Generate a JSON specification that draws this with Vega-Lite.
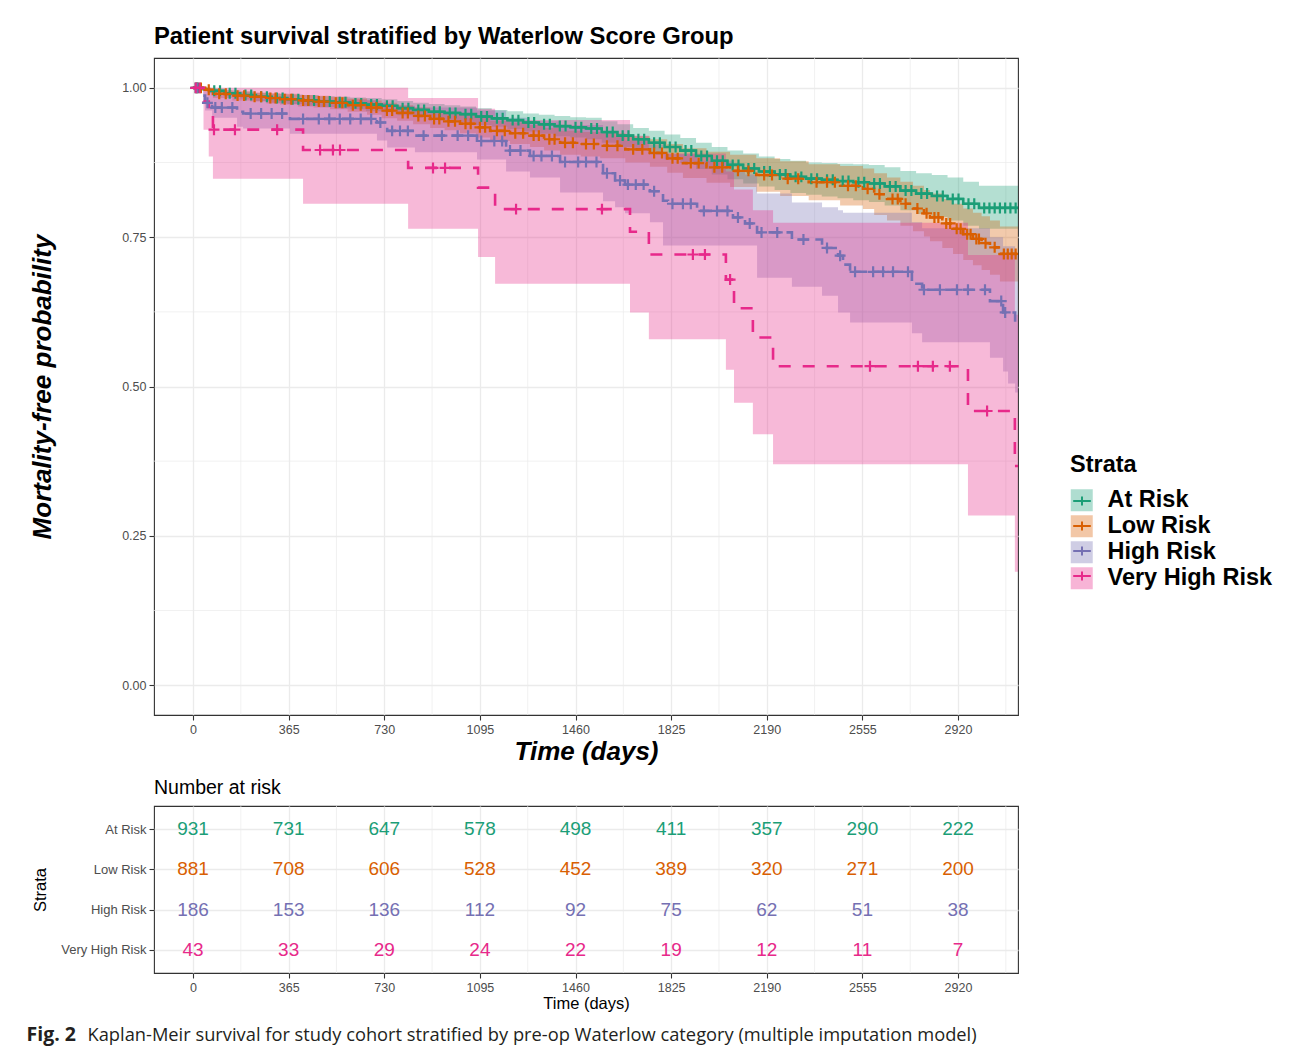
{
"$schema": "https://vega.github.io/schema/vega-lite/v6.json",
"background": "white",
"padding": {"left": 26, "top": 24, "right": 10, "bottom": 6},
"spacing": 11,
"resolve": {"legend": {"fill": "independent", "stroke": "independent", "color": "independent", "strokeDash": "independent"}},
"datasets": {
"curves": [
{"strata":"At Risk","t":0,"s":1,"lo":1,"hi":1},
{"strata":"At Risk","t":30,"s":0.998,"lo":0.995,"hi":1},
{"strata":"At Risk","t":61,"s":0.995,"lo":0.991,"hi":0.999},
{"strata":"At Risk","t":120,"s":0.991,"lo":0.986,"hi":0.996},
{"strata":"At Risk","t":180,"s":0.988,"lo":0.982,"hi":0.994},
{"strata":"At Risk","t":240,"s":0.985,"lo":0.978,"hi":0.992},
{"strata":"At Risk","t":300,"s":0.983,"lo":0.975,"hi":0.990},
{"strata":"At Risk","t":360,"s":0.981,"lo":0.973,"hi":0.989},
{"strata":"At Risk","t":420,"s":0.979,"lo":0.970,"hi":0.988},
{"strata":"At Risk","t":480,"s":0.977,"lo":0.968,"hi":0.986},
{"strata":"At Risk","t":540,"s":0.976,"lo":0.966,"hi":0.985},
{"strata":"At Risk","t":600,"s":0.974,"lo":0.964,"hi":0.984},
{"strata":"At Risk","t":660,"s":0.972,"lo":0.961,"hi":0.983},
{"strata":"At Risk","t":720,"s":0.970,"lo":0.959,"hi":0.981},
{"strata":"At Risk","t":780,"s":0.966,"lo":0.954,"hi":0.978},
{"strata":"At Risk","t":840,"s":0.963,"lo":0.951,"hi":0.975},
{"strata":"At Risk","t":900,"s":0.960,"lo":0.947,"hi":0.973},
{"strata":"At Risk","t":960,"s":0.958,"lo":0.945,"hi":0.971},
{"strata":"At Risk","t":1020,"s":0.956,"lo":0.943,"hi":0.969},
{"strata":"At Risk","t":1080,"s":0.952,"lo":0.938,"hi":0.966},
{"strata":"At Risk","t":1140,"s":0.949,"lo":0.935,"hi":0.963},
{"strata":"At Risk","t":1200,"s":0.946,"lo":0.931,"hi":0.961},
{"strata":"At Risk","t":1260,"s":0.942,"lo":0.927,"hi":0.957},
{"strata":"At Risk","t":1320,"s":0.939,"lo":0.923,"hi":0.955},
{"strata":"At Risk","t":1380,"s":0.936,"lo":0.919,"hi":0.953},
{"strata":"At Risk","t":1440,"s":0.934,"lo":0.917,"hi":0.951},
{"strata":"At Risk","t":1500,"s":0.932,"lo":0.914,"hi":0.950},
{"strata":"At Risk","t":1560,"s":0.926,"lo":0.908,"hi":0.944},
{"strata":"At Risk","t":1620,"s":0.920,"lo":0.901,"hi":0.939},
{"strata":"At Risk","t":1680,"s":0.914,"lo":0.895,"hi":0.933},
{"strata":"At Risk","t":1740,"s":0.908,"lo":0.888,"hi":0.928},
{"strata":"At Risk","t":1800,"s":0.901,"lo":0.880,"hi":0.922},
{"strata":"At Risk","t":1860,"s":0.895,"lo":0.874,"hi":0.916},
{"strata":"At Risk","t":1920,"s":0.886,"lo":0.864,"hi":0.908},
{"strata":"At Risk","t":1980,"s":0.878,"lo":0.855,"hi":0.901},
{"strata":"At Risk","t":2040,"s":0.871,"lo":0.847,"hi":0.895},
{"strata":"At Risk","t":2100,"s":0.865,"lo":0.840,"hi":0.890},
{"strata":"At Risk","t":2160,"s":0.860,"lo":0.835,"hi":0.885},
{"strata":"At Risk","t":2220,"s":0.855,"lo":0.829,"hi":0.881},
{"strata":"At Risk","t":2280,"s":0.851,"lo":0.824,"hi":0.878},
{"strata":"At Risk","t":2340,"s":0.848,"lo":0.821,"hi":0.875},
{"strata":"At Risk","t":2400,"s":0.846,"lo":0.818,"hi":0.874},
{"strata":"At Risk","t":2460,"s":0.844,"lo":0.815,"hi":0.873},
{"strata":"At Risk","t":2520,"s":0.842,"lo":0.812,"hi":0.872},
{"strata":"At Risk","t":2580,"s":0.840,"lo":0.809,"hi":0.871},
{"strata":"At Risk","t":2640,"s":0.835,"lo":0.803,"hi":0.867},
{"strata":"At Risk","t":2700,"s":0.828,"lo":0.795,"hi":0.861},
{"strata":"At Risk","t":2760,"s":0.823,"lo":0.789,"hi":0.857},
{"strata":"At Risk","t":2820,"s":0.819,"lo":0.784,"hi":0.854},
{"strata":"At Risk","t":2880,"s":0.814,"lo":0.778,"hi":0.850},
{"strata":"At Risk","t":2940,"s":0.806,"lo":0.769,"hi":0.843},
{"strata":"At Risk","t":3000,"s":0.799,"lo":0.764,"hi":0.836},
{"strata":"At Risk","t":3149,"s":0.799,"lo":0.764,"hi":0.836},
{"strata":"Low Risk","t":0,"s":1,"lo":1,"hi":1},
{"strata":"Low Risk","t":46,"s":0.997,"lo":0.993,"hi":1},
{"strata":"Low Risk","t":76,"s":0.990,"lo":0.983,"hi":0.996},
{"strata":"Low Risk","t":150,"s":0.987,"lo":0.979,"hi":0.994},
{"strata":"Low Risk","t":218,"s":0.985,"lo":0.977,"hi":0.992},
{"strata":"Low Risk","t":280,"s":0.983,"lo":0.974,"hi":0.991},
{"strata":"Low Risk","t":332,"s":0.981,"lo":0.972,"hi":0.990},
{"strata":"Low Risk","t":400,"s":0.979,"lo":0.969,"hi":0.988},
{"strata":"Low Risk","t":460,"s":0.977,"lo":0.967,"hi":0.987},
{"strata":"Low Risk","t":523,"s":0.975,"lo":0.964,"hi":0.985},
{"strata":"Low Risk","t":590,"s":0.971,"lo":0.960,"hi":0.982},
{"strata":"Low Risk","t":664,"s":0.967,"lo":0.955,"hi":0.979},
{"strata":"Low Risk","t":720,"s":0.962,"lo":0.949,"hi":0.975},
{"strata":"Low Risk","t":779,"s":0.958,"lo":0.945,"hi":0.971},
{"strata":"Low Risk","t":840,"s":0.953,"lo":0.939,"hi":0.967},
{"strata":"Low Risk","t":905,"s":0.948,"lo":0.933,"hi":0.962},
{"strata":"Low Risk","t":960,"s":0.944,"lo":0.929,"hi":0.959},
{"strata":"Low Risk","t":1019,"s":0.940,"lo":0.924,"hi":0.955},
{"strata":"Low Risk","t":1080,"s":0.934,"lo":0.917,"hi":0.950},
{"strata":"Low Risk","t":1134,"s":0.928,"lo":0.911,"hi":0.945},
{"strata":"Low Risk","t":1210,"s":0.924,"lo":0.906,"hi":0.942},
{"strata":"Low Risk","t":1286,"s":0.920,"lo":0.901,"hi":0.938},
{"strata":"Low Risk","t":1340,"s":0.914,"lo":0.895,"hi":0.933},
{"strata":"Low Risk","t":1401,"s":0.908,"lo":0.888,"hi":0.928},
{"strata":"Low Risk","t":1480,"s":0.906,"lo":0.885,"hi":0.926},
{"strata":"Low Risk","t":1554,"s":0.903,"lo":0.882,"hi":0.924},
{"strata":"Low Risk","t":1650,"s":0.897,"lo":0.875,"hi":0.919},
{"strata":"Low Risk","t":1744,"s":0.891,"lo":0.868,"hi":0.914},
{"strata":"Low Risk","t":1810,"s":0.882,"lo":0.858,"hi":0.906},
{"strata":"Low Risk","t":1870,"s":0.874,"lo":0.849,"hi":0.899},
{"strata":"Low Risk","t":1960,"s":0.867,"lo":0.841,"hi":0.893},
{"strata":"Low Risk","t":2050,"s":0.861,"lo":0.834,"hi":0.888},
{"strata":"Low Risk","t":2150,"s":0.854,"lo":0.826,"hi":0.882},
{"strata":"Low Risk","t":2241,"s":0.848,"lo":0.819,"hi":0.877},
{"strata":"Low Risk","t":2350,"s":0.842,"lo":0.812,"hi":0.872},
{"strata":"Low Risk","t":2470,"s":0.836,"lo":0.803,"hi":0.869},
{"strata":"Low Risk","t":2557,"s":0.831,"lo":0.797,"hi":0.865},
{"strata":"Low Risk","t":2600,"s":0.822,"lo":0.787,"hi":0.857},
{"strata":"Low Risk","t":2649,"s":0.814,"lo":0.778,"hi":0.850},
{"strata":"Low Risk","t":2700,"s":0.806,"lo":0.769,"hi":0.843},
{"strata":"Low Risk","t":2748,"s":0.798,"lo":0.760,"hi":0.836},
{"strata":"Low Risk","t":2790,"s":0.790,"lo":0.751,"hi":0.829},
{"strata":"Low Risk","t":2813,"s":0.783,"lo":0.743,"hi":0.823},
{"strata":"Low Risk","t":2860,"s":0.773,"lo":0.732,"hi":0.814},
{"strata":"Low Risk","t":2901,"s":0.764,"lo":0.722,"hi":0.806},
{"strata":"Low Risk","t":2940,"s":0.755,"lo":0.712,"hi":0.798},
{"strata":"Low Risk","t":2977,"s":0.747,"lo":0.703,"hi":0.791},
{"strata":"Low Risk","t":3010,"s":0.740,"lo":0.695,"hi":0.785},
{"strata":"Low Risk","t":3042,"s":0.733,"lo":0.687,"hi":0.778},
{"strata":"Low Risk","t":3080,"s":0.722,"lo":0.676,"hi":0.768},
{"strata":"Low Risk","t":3149,"s":0.722,"lo":0.676,"hi":0.768},
{"strata":"High Risk","t":0,"s":1,"lo":1,"hi":1},
{"strata":"High Risk","t":38,"s":0.987,"lo":0.975,"hi":0.998},
{"strata":"High Risk","t":46,"s":0.975,"lo":0.962,"hi":0.993},
{"strata":"High Risk","t":73,"s":0.967,"lo":0.950,"hi":0.990},
{"strata":"High Risk","t":168,"s":0.960,"lo":0.935,"hi":0.985},
{"strata":"High Risk","t":191,"s":0.957,"lo":0.932,"hi":0.984},
{"strata":"High Risk","t":370,"s":0.948,"lo":0.923,"hi":0.980},
{"strata":"High Risk","t":702,"s":0.942,"lo":0.912,"hi":0.975},
{"strata":"High Risk","t":741,"s":0.928,"lo":0.900,"hi":0.970},
{"strata":"High Risk","t":847,"s":0.920,"lo":0.892,"hi":0.967},
{"strata":"High Risk","t":1084,"s":0.911,"lo":0.880,"hi":0.962},
{"strata":"High Risk","t":1195,"s":0.895,"lo":0.860,"hi":0.950},
{"strata":"High Risk","t":1286,"s":0.886,"lo":0.850,"hi":0.944},
{"strata":"High Risk","t":1401,"s":0.876,"lo":0.825,"hi":0.938},
{"strata":"High Risk","t":1565,"s":0.857,"lo":0.810,"hi":0.925},
{"strata":"High Risk","t":1611,"s":0.845,"lo":0.800,"hi":0.918},
{"strata":"High Risk","t":1649,"s":0.838,"lo":0.790,"hi":0.912},
{"strata":"High Risk","t":1744,"s":0.827,"lo":0.775,"hi":0.905},
{"strata":"High Risk","t":1794,"s":0.811,"lo":0.736,"hi":0.893},
{"strata":"High Risk","t":1813,"s":0.806,"lo":0.736,"hi":0.889},
{"strata":"High Risk","t":1924,"s":0.794,"lo":0.736,"hi":0.878},
{"strata":"High Risk","t":2061,"s":0.783,"lo":0.736,"hi":0.862},
{"strata":"High Risk","t":2107,"s":0.773,"lo":0.736,"hi":0.855},
{"strata":"High Risk","t":2153,"s":0.758,"lo":0.682,"hi":0.823},
{"strata":"High Risk","t":2286,"s":0.746,"lo":0.667,"hi":0.808},
{"strata":"High Risk","t":2401,"s":0.732,"lo":0.652,"hi":0.800},
{"strata":"High Risk","t":2462,"s":0.719,"lo":0.624,"hi":0.795},
{"strata":"High Risk","t":2481,"s":0.704,"lo":0.624,"hi":0.791},
{"strata":"High Risk","t":2508,"s":0.692,"lo":0.607,"hi":0.791},
{"strata":"High Risk","t":2744,"s":0.672,"lo":0.589,"hi":0.775},
{"strata":"High Risk","t":2783,"s":0.662,"lo":0.574,"hi":0.765},
{"strata":"High Risk","t":3042,"s":0.643,"lo":0.548,"hi":0.750},
{"strata":"High Risk","t":3092,"s":0.624,"lo":0.525,"hi":0.735},
{"strata":"High Risk","t":3111,"s":0.624,"lo":0.505,"hi":0.735},
{"strata":"High Risk","t":3138,"s":0.606,"lo":0.490,"hi":0.720},
{"strata":"High Risk","t":3149,"s":0.606,"lo":0.490,"hi":0.720},
{"strata":"Very High Risk","t":0,"s":1,"lo":1,"hi":1},
{"strata":"Very High Risk","t":40,"s":0.977,"lo":0.930,"hi":1},
{"strata":"Very High Risk","t":60,"s":0.953,"lo":0.885,"hi":1},
{"strata":"Very High Risk","t":76,"s":0.930,"lo":0.848,"hi":1},
{"strata":"Very High Risk","t":420,"s":0.896,"lo":0.806,"hi":1},
{"strata":"Very High Risk","t":821,"s":0.866,"lo":0.764,"hi":0.983},
{"strata":"Very High Risk","t":1088,"s":0.833,"lo":0.717,"hi":0.965},
{"strata":"Very High Risk","t":1153,"s":0.797,"lo":0.672,"hi":0.946},
{"strata":"Very High Risk","t":1668,"s":0.759,"lo":0.624,"hi":0.920},
{"strata":"Very High Risk","t":1740,"s":0.721,"lo":0.579,"hi":0.890},
{"strata":"Very High Risk","t":2034,"s":0.679,"lo":0.528,"hi":0.860},
{"strata":"Very High Risk","t":2065,"s":0.631,"lo":0.473,"hi":0.830},
{"strata":"Very High Risk","t":2137,"s":0.582,"lo":0.420,"hi":0.795},
{"strata":"Very High Risk","t":2214,"s":0.534,"lo":0.370,"hi":0.774},
{"strata":"Very High Risk","t":2958,"s":0.459,"lo":0.284,"hi":0.720},
{"strata":"Very High Risk","t":3137,"s":0.367,"lo":0.190,"hi":0.620},
{"strata":"Very High Risk","t":3149,"s":0.367,"lo":0.190,"hi":0.620}
],
"censor": [
{"strata":"At Risk","t":10,"s":1},{"strata":"At Risk","t":20,"s":1},
{"strata":"At Risk","t":81,"s":0.995},{"strata":"At Risk","t":103,"s":0.995},
{"strata":"At Risk","t":140,"s":0.991},{"strata":"At Risk","t":162,"s":0.991},
{"strata":"At Risk","t":200,"s":0.988},{"strata":"At Risk","t":222,"s":0.988},
{"strata":"At Risk","t":260,"s":0.985},{"strata":"At Risk","t":282,"s":0.985},
{"strata":"At Risk","t":320,"s":0.983},{"strata":"At Risk","t":342,"s":0.983},
{"strata":"At Risk","t":380,"s":0.981},{"strata":"At Risk","t":402,"s":0.981},
{"strata":"At Risk","t":440,"s":0.979},{"strata":"At Risk","t":462,"s":0.979},
{"strata":"At Risk","t":500,"s":0.977},{"strata":"At Risk","t":522,"s":0.977},
{"strata":"At Risk","t":560,"s":0.976},{"strata":"At Risk","t":582,"s":0.976},
{"strata":"At Risk","t":620,"s":0.974},{"strata":"At Risk","t":642,"s":0.974},
{"strata":"At Risk","t":680,"s":0.972},{"strata":"At Risk","t":702,"s":0.972},
{"strata":"At Risk","t":740,"s":0.970},{"strata":"At Risk","t":762,"s":0.970},
{"strata":"At Risk","t":800,"s":0.966},{"strata":"At Risk","t":822,"s":0.966},
{"strata":"At Risk","t":860,"s":0.963},{"strata":"At Risk","t":882,"s":0.963},
{"strata":"At Risk","t":920,"s":0.960},{"strata":"At Risk","t":942,"s":0.960},
{"strata":"At Risk","t":980,"s":0.958},{"strata":"At Risk","t":1002,"s":0.958},
{"strata":"At Risk","t":1040,"s":0.956},{"strata":"At Risk","t":1062,"s":0.956},
{"strata":"At Risk","t":1100,"s":0.952},{"strata":"At Risk","t":1122,"s":0.952},
{"strata":"At Risk","t":1160,"s":0.949},{"strata":"At Risk","t":1182,"s":0.949},
{"strata":"At Risk","t":1220,"s":0.946},{"strata":"At Risk","t":1242,"s":0.946},
{"strata":"At Risk","t":1280,"s":0.942},{"strata":"At Risk","t":1302,"s":0.942},
{"strata":"At Risk","t":1340,"s":0.939},{"strata":"At Risk","t":1362,"s":0.939},
{"strata":"At Risk","t":1400,"s":0.936},{"strata":"At Risk","t":1422,"s":0.936},
{"strata":"At Risk","t":1460,"s":0.934},{"strata":"At Risk","t":1482,"s":0.934},
{"strata":"At Risk","t":1520,"s":0.932},{"strata":"At Risk","t":1542,"s":0.932},
{"strata":"At Risk","t":1580,"s":0.926},{"strata":"At Risk","t":1602,"s":0.926},
{"strata":"At Risk","t":1640,"s":0.920},{"strata":"At Risk","t":1662,"s":0.920},
{"strata":"At Risk","t":1700,"s":0.914},{"strata":"At Risk","t":1722,"s":0.914},
{"strata":"At Risk","t":1760,"s":0.908},{"strata":"At Risk","t":1782,"s":0.908},
{"strata":"At Risk","t":1820,"s":0.901},{"strata":"At Risk","t":1842,"s":0.901},
{"strata":"At Risk","t":1880,"s":0.895},{"strata":"At Risk","t":1902,"s":0.895},
{"strata":"At Risk","t":1940,"s":0.886},{"strata":"At Risk","t":1962,"s":0.886},
{"strata":"At Risk","t":2000,"s":0.878},{"strata":"At Risk","t":2022,"s":0.878},
{"strata":"At Risk","t":2060,"s":0.871},{"strata":"At Risk","t":2082,"s":0.871},
{"strata":"At Risk","t":2120,"s":0.865},{"strata":"At Risk","t":2142,"s":0.865},
{"strata":"At Risk","t":2180,"s":0.860},{"strata":"At Risk","t":2202,"s":0.860},
{"strata":"At Risk","t":2240,"s":0.855},{"strata":"At Risk","t":2262,"s":0.855},
{"strata":"At Risk","t":2300,"s":0.851},{"strata":"At Risk","t":2322,"s":0.851},
{"strata":"At Risk","t":2360,"s":0.848},{"strata":"At Risk","t":2382,"s":0.848},
{"strata":"At Risk","t":2420,"s":0.846},{"strata":"At Risk","t":2442,"s":0.846},
{"strata":"At Risk","t":2480,"s":0.844},{"strata":"At Risk","t":2502,"s":0.844},
{"strata":"At Risk","t":2540,"s":0.842},{"strata":"At Risk","t":2562,"s":0.842},
{"strata":"At Risk","t":2600,"s":0.840},{"strata":"At Risk","t":2622,"s":0.840},
{"strata":"At Risk","t":2660,"s":0.835},{"strata":"At Risk","t":2682,"s":0.835},
{"strata":"At Risk","t":2720,"s":0.828},{"strata":"At Risk","t":2742,"s":0.828},
{"strata":"At Risk","t":2780,"s":0.823},{"strata":"At Risk","t":2802,"s":0.823},
{"strata":"At Risk","t":2840,"s":0.819},{"strata":"At Risk","t":2862,"s":0.819},
{"strata":"At Risk","t":2900,"s":0.814},{"strata":"At Risk","t":2922,"s":0.814},
{"strata":"At Risk","t":2960,"s":0.806},{"strata":"At Risk","t":2982,"s":0.806},
{"strata":"At Risk","t":3020,"s":0.799},{"strata":"At Risk","t":3040,"s":0.799},
{"strata":"At Risk","t":3060,"s":0.799},{"strata":"At Risk","t":3080,"s":0.799},
{"strata":"At Risk","t":3100,"s":0.799},{"strata":"At Risk","t":3120,"s":0.799},
{"strata":"At Risk","t":3140,"s":0.799},
{"strata":"Low Risk","t":15,"s":1},{"strata":"Low Risk","t":30,"s":1},
{"strata":"Low Risk","t":60,"s":0.997},
{"strata":"Low Risk","t":100,"s":0.990},{"strata":"Low Risk","t":125,"s":0.990},
{"strata":"Low Risk","t":170,"s":0.987},{"strata":"Low Risk","t":195,"s":0.987},
{"strata":"Low Risk","t":235,"s":0.985},{"strata":"Low Risk","t":260,"s":0.985},
{"strata":"Low Risk","t":295,"s":0.983},{"strata":"Low Risk","t":315,"s":0.983},
{"strata":"Low Risk","t":350,"s":0.981},{"strata":"Low Risk","t":375,"s":0.981},
{"strata":"Low Risk","t":420,"s":0.979},{"strata":"Low Risk","t":440,"s":0.979},
{"strata":"Low Risk","t":480,"s":0.977},{"strata":"Low Risk","t":500,"s":0.977},
{"strata":"Low Risk","t":545,"s":0.975},{"strata":"Low Risk","t":570,"s":0.975},
{"strata":"Low Risk","t":610,"s":0.971},{"strata":"Low Risk","t":640,"s":0.971},
{"strata":"Low Risk","t":680,"s":0.967},{"strata":"Low Risk","t":700,"s":0.967},
{"strata":"Low Risk","t":740,"s":0.962},{"strata":"Low Risk","t":760,"s":0.962},
{"strata":"Low Risk","t":800,"s":0.958},{"strata":"Low Risk","t":820,"s":0.958},
{"strata":"Low Risk","t":860,"s":0.953},{"strata":"Low Risk","t":885,"s":0.953},
{"strata":"Low Risk","t":920,"s":0.948},{"strata":"Low Risk","t":940,"s":0.948},
{"strata":"Low Risk","t":975,"s":0.944},{"strata":"Low Risk","t":1000,"s":0.944},
{"strata":"Low Risk","t":1040,"s":0.940},{"strata":"Low Risk","t":1060,"s":0.940},
{"strata":"Low Risk","t":1095,"s":0.934},{"strata":"Low Risk","t":1115,"s":0.934},
{"strata":"Low Risk","t":1160,"s":0.928},{"strata":"Low Risk","t":1190,"s":0.928},
{"strata":"Low Risk","t":1230,"s":0.924},{"strata":"Low Risk","t":1260,"s":0.924},
{"strata":"Low Risk","t":1300,"s":0.920},{"strata":"Low Risk","t":1320,"s":0.920},
{"strata":"Low Risk","t":1360,"s":0.914},{"strata":"Low Risk","t":1380,"s":0.914},
{"strata":"Low Risk","t":1420,"s":0.908},{"strata":"Low Risk","t":1450,"s":0.908},
{"strata":"Low Risk","t":1500,"s":0.906},{"strata":"Low Risk","t":1530,"s":0.906},
{"strata":"Low Risk","t":1580,"s":0.903},{"strata":"Low Risk","t":1620,"s":0.903},
{"strata":"Low Risk","t":1680,"s":0.897},{"strata":"Low Risk","t":1715,"s":0.897},
{"strata":"Low Risk","t":1760,"s":0.891},{"strata":"Low Risk","t":1790,"s":0.891},
{"strata":"Low Risk","t":1830,"s":0.882},{"strata":"Low Risk","t":1850,"s":0.882},
{"strata":"Low Risk","t":1900,"s":0.874},{"strata":"Low Risk","t":1930,"s":0.874},
{"strata":"Low Risk","t":1990,"s":0.867},{"strata":"Low Risk","t":2020,"s":0.867},
{"strata":"Low Risk","t":2080,"s":0.861},{"strata":"Low Risk","t":2120,"s":0.861},
{"strata":"Low Risk","t":2180,"s":0.854},{"strata":"Low Risk","t":2210,"s":0.854},
{"strata":"Low Risk","t":2270,"s":0.848},{"strata":"Low Risk","t":2310,"s":0.848},
{"strata":"Low Risk","t":2380,"s":0.842},{"strata":"Low Risk","t":2420,"s":0.842},
{"strata":"Low Risk","t":2450,"s":0.842},
{"strata":"Low Risk","t":2500,"s":0.836},{"strata":"Low Risk","t":2530,"s":0.836},
{"strata":"Low Risk","t":2575,"s":0.831},{"strata":"Low Risk","t":2620,"s":0.822},
{"strata":"Low Risk","t":2670,"s":0.814},{"strata":"Low Risk","t":2690,"s":0.814},
{"strata":"Low Risk","t":2720,"s":0.806},{"strata":"Low Risk","t":2765,"s":0.798},
{"strata":"Low Risk","t":2800,"s":0.790},{"strata":"Low Risk","t":2830,"s":0.783},
{"strata":"Low Risk","t":2845,"s":0.783},{"strata":"Low Risk","t":2875,"s":0.773},
{"strata":"Low Risk","t":2890,"s":0.773},{"strata":"Low Risk","t":2915,"s":0.764},
{"strata":"Low Risk","t":2930,"s":0.764},{"strata":"Low Risk","t":2955,"s":0.755},
{"strata":"Low Risk","t":2968,"s":0.755},{"strata":"Low Risk","t":2990,"s":0.747},
{"strata":"Low Risk","t":3000,"s":0.747},{"strata":"Low Risk","t":3025,"s":0.740},
{"strata":"Low Risk","t":3060,"s":0.733},{"strata":"Low Risk","t":3095,"s":0.722},
{"strata":"Low Risk","t":3110,"s":0.722},{"strata":"Low Risk","t":3125,"s":0.722},
{"strata":"Low Risk","t":3140,"s":0.722},
{"strata":"High Risk","t":15,"s":1},{"strata":"High Risk","t":55,"s":0.975},
{"strata":"High Risk","t":85,"s":0.967},{"strata":"High Risk","t":110,"s":0.967},{"strata":"High Risk","t":150,"s":0.967},
{"strata":"High Risk","t":220,"s":0.957},{"strata":"High Risk","t":260,"s":0.957},{"strata":"High Risk","t":300,"s":0.957},{"strata":"High Risk","t":340,"s":0.957},
{"strata":"High Risk","t":420,"s":0.948},{"strata":"High Risk","t":480,"s":0.948},{"strata":"High Risk","t":520,"s":0.948},{"strata":"High Risk","t":560,"s":0.948},{"strata":"High Risk","t":600,"s":0.948},{"strata":"High Risk","t":640,"s":0.948},{"strata":"High Risk","t":680,"s":0.948},
{"strata":"High Risk","t":715,"s":0.942},
{"strata":"High Risk","t":760,"s":0.928},{"strata":"High Risk","t":790,"s":0.928},{"strata":"High Risk","t":820,"s":0.928},
{"strata":"High Risk","t":880,"s":0.920},{"strata":"High Risk","t":950,"s":0.920},{"strata":"High Risk","t":1010,"s":0.920},{"strata":"High Risk","t":1050,"s":0.920},
{"strata":"High Risk","t":1100,"s":0.911},{"strata":"High Risk","t":1150,"s":0.911},{"strata":"High Risk","t":1180,"s":0.911},
{"strata":"High Risk","t":1210,"s":0.895},{"strata":"High Risk","t":1250,"s":0.895},
{"strata":"High Risk","t":1300,"s":0.886},{"strata":"High Risk","t":1330,"s":0.886},{"strata":"High Risk","t":1370,"s":0.886},
{"strata":"High Risk","t":1420,"s":0.876},{"strata":"High Risk","t":1470,"s":0.876},{"strata":"High Risk","t":1500,"s":0.876},{"strata":"High Risk","t":1540,"s":0.876},
{"strata":"High Risk","t":1580,"s":0.857},{"strata":"High Risk","t":1630,"s":0.845},
{"strata":"High Risk","t":1660,"s":0.838},{"strata":"High Risk","t":1690,"s":0.838},{"strata":"High Risk","t":1720,"s":0.838},
{"strata":"High Risk","t":1760,"s":0.827},
{"strata":"High Risk","t":1830,"s":0.806},{"strata":"High Risk","t":1870,"s":0.806},{"strata":"High Risk","t":1900,"s":0.806},
{"strata":"High Risk","t":1950,"s":0.794},{"strata":"High Risk","t":2000,"s":0.794},{"strata":"High Risk","t":2040,"s":0.794},
{"strata":"High Risk","t":2080,"s":0.783},{"strata":"High Risk","t":2125,"s":0.773},
{"strata":"High Risk","t":2170,"s":0.758},{"strata":"High Risk","t":2230,"s":0.758},
{"strata":"High Risk","t":2330,"s":0.746},{"strata":"High Risk","t":2420,"s":0.732},{"strata":"High Risk","t":2470,"s":0.719},
{"strata":"High Risk","t":2527,"s":0.692},{"strata":"High Risk","t":2596,"s":0.692},{"strata":"High Risk","t":2634,"s":0.692},{"strata":"High Risk","t":2672,"s":0.692},{"strata":"High Risk","t":2729,"s":0.692},
{"strata":"High Risk","t":2790,"s":0.662},{"strata":"High Risk","t":2851,"s":0.662},{"strata":"High Risk","t":2916,"s":0.662},{"strata":"High Risk","t":2958,"s":0.662},{"strata":"High Risk","t":3023,"s":0.662},
{"strata":"High Risk","t":3085,"s":0.643},{"strata":"High Risk","t":3100,"s":0.624},
{"strata":"Very High Risk","t":10,"s":1},{"strata":"Very High Risk","t":25,"s":1},
{"strata":"Very High Risk","t":80,"s":0.930},{"strata":"Very High Risk","t":160,"s":0.930},{"strata":"Very High Risk","t":321,"s":0.930},
{"strata":"Very High Risk","t":485,"s":0.896},{"strata":"Very High Risk","t":534,"s":0.896},{"strata":"Very High Risk","t":561,"s":0.896},
{"strata":"Very High Risk","t":916,"s":0.866},{"strata":"Very High Risk","t":962,"s":0.866},
{"strata":"Very High Risk","t":1233,"s":0.797},{"strata":"Very High Risk","t":1561,"s":0.797},
{"strata":"Very High Risk","t":1908,"s":0.721},{"strata":"Very High Risk","t":1954,"s":0.721},
{"strata":"Very High Risk","t":2050,"s":0.679},
{"strata":"Very High Risk","t":2584,"s":0.534},{"strata":"Very High Risk","t":2767,"s":0.534},{"strata":"Very High Risk","t":2824,"s":0.534},{"strata":"Very High Risk","t":2889,"s":0.534},
{"strata":"Very High Risk","t":3031,"s":0.459}
],
"risk": [
{"strata":"At Risk","t":0,"n":931},{"strata":"At Risk","t":365,"n":731},{"strata":"At Risk","t":730,"n":647},{"strata":"At Risk","t":1095,"n":578},{"strata":"At Risk","t":1460,"n":498},{"strata":"At Risk","t":1825,"n":411},{"strata":"At Risk","t":2190,"n":357},{"strata":"At Risk","t":2555,"n":290},{"strata":"At Risk","t":2920,"n":222},
{"strata":"Low Risk","t":0,"n":881},{"strata":"Low Risk","t":365,"n":708},{"strata":"Low Risk","t":730,"n":606},{"strata":"Low Risk","t":1095,"n":528},{"strata":"Low Risk","t":1460,"n":452},{"strata":"Low Risk","t":1825,"n":389},{"strata":"Low Risk","t":2190,"n":320},{"strata":"Low Risk","t":2555,"n":271},{"strata":"Low Risk","t":2920,"n":200},
{"strata":"High Risk","t":0,"n":186},{"strata":"High Risk","t":365,"n":153},{"strata":"High Risk","t":730,"n":136},{"strata":"High Risk","t":1095,"n":112},{"strata":"High Risk","t":1460,"n":92},{"strata":"High Risk","t":1825,"n":75},{"strata":"High Risk","t":2190,"n":62},{"strata":"High Risk","t":2555,"n":51},{"strata":"High Risk","t":2920,"n":38},
{"strata":"Very High Risk","t":0,"n":43},{"strata":"Very High Risk","t":365,"n":33},{"strata":"Very High Risk","t":730,"n":29},{"strata":"Very High Risk","t":1095,"n":24},{"strata":"Very High Risk","t":1460,"n":22},{"strata":"Very High Risk","t":1825,"n":19},{"strata":"Very High Risk","t":2190,"n":12},{"strata":"Very High Risk","t":2555,"n":11},{"strata":"Very High Risk","t":2920,"n":7}
],
"minorx": [{"m":182.5},{"m":547.5},{"m":912.5},{"m":1277.5},{"m":1642.5},{"m":2007.5},{"m":2372.5},{"m":2737.5},{"m":3102.5}],
"minory": [{"m":0.125},{"m":0.375},{"m":0.625},{"m":0.875}]
},
"vconcat": [
{
"width": 864, "height": 657,
"title": {"text": "Patient survival stratified by Waterlow Score Group", "anchor": "start", "frame": "group", "fontSize": 23.8, "fontWeight": "bold", "font": "Liberation Sans", "color": "#000000", "offset": 9},
"layer": [
{"data": {"name": "minorx"}, "mark": {"type": "rule", "color": "#EBEBEB", "strokeWidth": 0.7},
 "encoding": {"x": {"field": "m", "type": "quantitative", "scale": {"domain": [-149, 3149], "nice": false, "zero": false},
   "axis": {"values": [0,365,730,1095,1460,1825,2190,2555,2920], "format": "d", "title": "Time (days)", "titleFontSize": 26, "titleFontWeight": "bold", "titleFontStyle": "italic", "labelPadding": 3, "titlePadding": 3}}}},
{"data": {"name": "minory"}, "mark": {"type": "rule", "color": "#EBEBEB", "strokeWidth": 0.7},
 "encoding": {"y": {"field": "m", "type": "quantitative", "scale": {"domain": [-0.05, 1.05], "nice": false, "zero": false},
   "axis": {"values": [0,0.25,0.5,0.75,1], "format": ".2f", "title": "Mortality-free probability", "titleFontSize": 26, "titleFontWeight": "bold", "titleFontStyle": "italic", "labelPadding": 3, "titlePadding": 66}}}},
{"data": {"name": "curves"}, "transform": [{"filter": "datum.strata === 'At Risk'"}],
 "mark": {"type": "area", "interpolate": "step-after", "fillOpacity": 0.33, "clip": true},
 "encoding": {
  "x": {"field": "t", "type": "quantitative", "scale": {"domain": [-149, 3149], "nice": false, "zero": false},
        "axis": {"values": [0,365,730,1095,1460,1825,2190,2555,2920], "format": "d", "title": "Time (days)", "titleFontSize": 26, "titleFontWeight": "bold", "titleFontStyle": "italic", "labelPadding": 3, "titlePadding": 3}},
  "y": {"field": "lo", "type": "quantitative", "scale": {"domain": [-0.05, 1.05], "nice": false, "zero": false},
        "axis": {"values": [0,0.25,0.5,0.75,1], "format": ".2f", "title": "Mortality-free probability", "titleFontSize": 26, "titleFontWeight": "bold", "titleFontStyle": "italic", "labelPadding": 3, "titlePadding": 66}},
  "y2": {"field": "hi"},
  "fill": {"field": "strata", "type": "nominal",
           "scale": {"domain": ["At Risk","Low Risk","High Risk","Very High Risk"], "range": ["#1B9E77","#D95F02","#7570B3","#E7298A"]},
           "legend": {"title": "Strata", "orient": "none", "legendX": 916, "legendY": 395, "titleFont": "Liberation Sans", "titleFontSize": 23.5, "titleFontWeight": "bold", "titleColor": "#000000", "labelFont": "Liberation Sans", "labelFontSize": 23.5, "labelFontWeight": "bold", "labelColor": "#000000", "symbolType": "square", "symbolSize": 484, "symbolStrokeWidth": 0, "labelOffset": 14, "rowPadding": 1, "titlePadding": 12, "labelLimit": 400,
                      "encode": {"symbols": {"update": {"fillOpacity": {"value": 0.35}, "opacity": {"value": 1}, "strokeWidth": {"value": 0}}}}}}
 }},
{"data": {"name": "curves"}, "transform": [{"filter": "datum.strata === 'Low Risk'"}],
 "mark": {"type": "area", "interpolate": "step-after", "fillOpacity": 0.33, "clip": true},
 "encoding": {"x": {"field": "t", "type": "quantitative"}, "y": {"field": "lo", "type": "quantitative"}, "y2": {"field": "hi"},
  "fill": {"field": "strata", "type": "nominal", "legend": null}}},
{"data": {"name": "curves"}, "transform": [{"filter": "datum.strata === 'High Risk'"}],
 "mark": {"type": "area", "interpolate": "step-after", "fillOpacity": 0.33, "clip": true},
 "encoding": {"x": {"field": "t", "type": "quantitative"}, "y": {"field": "lo", "type": "quantitative"}, "y2": {"field": "hi"},
  "fill": {"field": "strata", "type": "nominal", "legend": null}}},
{"data": {"name": "curves"}, "transform": [{"filter": "datum.strata === 'Very High Risk'"}],
 "mark": {"type": "area", "interpolate": "step-after", "fillOpacity": 0.33, "clip": true},
 "encoding": {"x": {"field": "t", "type": "quantitative"}, "y": {"field": "lo", "type": "quantitative"}, "y2": {"field": "hi"},
  "fill": {"field": "strata", "type": "nominal", "legend": null}}},
{"data": {"name": "curves"},
 "mark": {"type": "line", "interpolate": "step-after", "strokeWidth": 2.6, "clip": true},
 "encoding": {"x": {"field": "t", "type": "quantitative"}, "y": {"field": "s", "type": "quantitative"},
  "color": {"field": "strata", "type": "nominal", "scale": {"domain": ["At Risk","Low Risk","High Risk","Very High Risk"], "range": ["#1B9E77","#D95F02","#7570B3","#E7298A"]}, "legend": null},
  "strokeDash": {"field": "strata", "type": "nominal", "scale": {"domain": ["At Risk","Low Risk","High Risk","Very High Risk"], "range": [[1,0],[6,6],[12,6],[12,12]]}, "legend": null}}},
{"data": {"name": "censor"},
 "mark": {"type": "point", "shape": "M-1,0H1M0,-1V1", "filled": false, "strokeWidth": 2.2, "size": 120, "opacity": 1, "clip": true},
 "encoding": {"x": {"field": "t", "type": "quantitative"}, "y": {"field": "s", "type": "quantitative"},
  "stroke": {"field": "strata", "type": "nominal", "sort": ["At Risk","Low Risk","High Risk","Very High Risk"],
             "scale": {"range": ["#1B9E77","#D95F02","#7570B3","#E7298A"]},
             "legend": {"title": null, "orient": "none", "legendX": 916, "legendY": 431, "labelExpr": "''", "labelFontSize": 1, "labelOffset": 0, "symbolType": "M-0.8,0H0.8M0,-0.4V0.4", "symbolSize": 484, "symbolStrokeWidth": 2, "symbolFillColor": "transparent", "rowPadding": 4}}}},
{"mark": {"type": "text", "text": "p < 0.0001", "align": "left", "baseline": "middle", "fontSize": 20.5, "font": "Liberation Sans", "color": "#000000"},
 "encoding": {"x": {"datum": 103, "type": "quantitative"}, "y": {"datum": 0.197, "type": "quantitative"}}}
]
},
{
"width": 864, "height": 167,
"title": {"text": "Number at risk", "anchor": "start", "frame": "group", "fontSize": 19.5, "fontWeight": "normal", "font": "Liberation Sans", "color": "#000000", "offset": 7},
"layer": [
{"data": {"name": "minorx"}, "mark": {"type": "rule", "color": "#EBEBEB", "strokeWidth": 0.7},
 "encoding": {"x": {"field": "m", "type": "quantitative", "scale": {"domain": [-149, 3149], "nice": false, "zero": false},
   "axis": {"values": [0,365,730,1095,1460,1825,2190,2555,2920], "format": "d", "title": "Time (days)", "titleFontSize": 16.5, "titleFontWeight": "normal", "labelPadding": 3, "titlePadding": 2}}}},
{"data": {"name": "risk"},
 "mark": {"type": "text", "fontSize": 19, "font": "Liberation Sans", "baseline": "middle", "align": "center"},
 "encoding": {
  "x": {"field": "t", "type": "quantitative", "scale": {"domain": [-149, 3149], "nice": false, "zero": false},
        "axis": {"values": [0,365,730,1095,1460,1825,2190,2555,2920], "format": "d", "title": "Time (days)", "titleFontSize": 16.5, "titleFontWeight": "normal", "labelPadding": 3, "titlePadding": 2}},
  "y": {"field": "strata", "type": "nominal", "scale": {"type": "point", "padding": 0.58, "domain": ["At Risk","Low Risk","High Risk","Very High Risk"]},
        "axis": {"title": "Strata", "titleFontSize": 16.5, "titleFontWeight": "normal", "labelFontSize": 13, "labelPadding": 3, "titlePadding": 12, "grid": true,
                 "encode": {"labels": {"update": {"fill": {"signal": "datum.value === 'At Risk' ? '#1B9E77' : datum.value === 'Low Risk' ? '#D95F02' : datum.value === 'High Risk' ? '#7570B3' : '#E7298A'"}}}}}},
  "text": {"field": "n", "type": "quantitative"},
  "color": {"field": "strata", "type": "nominal", "scale": {"domain": ["At Risk","Low Risk","High Risk","Very High Risk"], "range": ["#1B9E77","#D95F02","#7570B3","#E7298A"]}, "legend": null}
 }}
]
},
{
"width": 864, "height": 1,
"view": {"stroke": null},
"data": {"values": [{"a": 0, "b": 0}]},
"mark": {"type": "point", "opacity": 0},
"encoding": {
 "x": {"field": "a", "type": "quantitative", "axis": {"title": "Kaplan-Meir survival for study cohort stratified by pre-op Waterlow category (multiple imputation model)", "labels": false, "ticks": false, "domain": false, "grid": false, "titleFont": "Open Sans", "titleFontSize": 18.3, "titleFontWeight": "normal", "titleColor": "#231F20", "titleAlign": "left", "titleX": -67, "titleY": 12, "titleBaseline": "alphabetic"}},
 "y": {"field": "b", "type": "quantitative", "axis": {"title": "Fig. 2", "titleAngle": 0, "labels": false, "ticks": false, "domain": false, "grid": false, "titleFont": "Open Sans", "titleFontSize": 19.5, "titleFontWeight": "bold", "titleColor": "#231F20", "titleAlign": "left", "titleX": -128, "titleY": 13, "titleBaseline": "alphabetic"}}
}
}
],
"config": {
"view": {"stroke": "#333333", "strokeWidth": 1.1},
"font": "Liberation Sans",
"axis": {"labelFont": "Liberation Sans", "titleFont": "Liberation Sans", "labelColor": "#4D4D4D", "labelFontSize": 12.5, "tickColor": "#333333", "tickSize": 5, "tickWidth": 1.1, "domain": false, "gridColor": "#EBEBEB", "gridWidth": 1.3, "titleColor": "#000000"}
}
}
